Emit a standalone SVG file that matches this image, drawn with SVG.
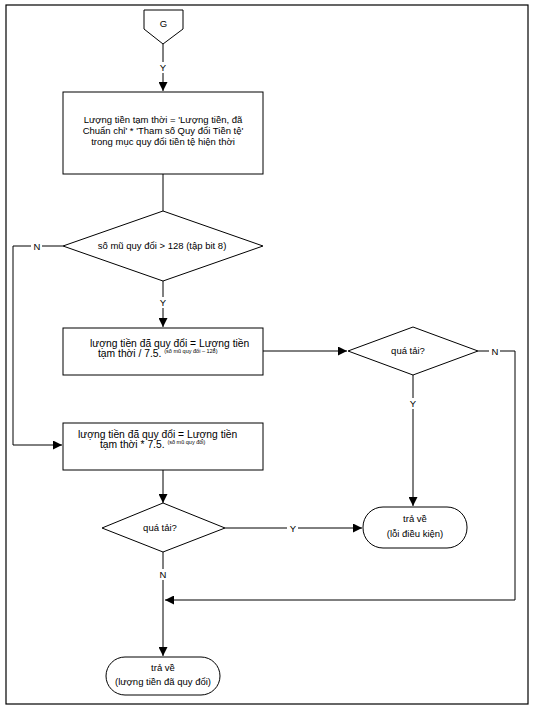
<svg xmlns="http://www.w3.org/2000/svg" width="535" height="707" viewBox="0 0 535 707">
<style>
.s{fill:#fff;stroke:#000;stroke-width:1}
.c{fill:none;stroke:#000;stroke-width:1}
text{font-family:"Liberation Sans",Arial,sans-serif;font-size:9.5px;fill:#000}
.m{text-anchor:middle}
.b{font-size:10.3px}
.sup{font-size:5.5px}
.lb{fill:#fff}
</style>
<defs>
<marker id="a" viewBox="0 0 10 10" refX="10" refY="5" markerWidth="9" markerHeight="9" markerUnits="userSpaceOnUse" orient="auto">
<path d="M0,0 L10,5 L0,10 z" fill="#000"/>
</marker>
</defs>
<rect x="6" y="5" width="522" height="699" fill="#fff" stroke="#000" stroke-width="1.2"/>
<g id="connectors">
<path class="c" d="M163,44 V91" marker-end="url(#a)"/>
<path class="c" d="M163,174 V211"/>
<path class="c" d="M63,246 H13 V445 H62" marker-end="url(#a)"/>
<path class="c" d="M163,281 V327" marker-end="url(#a)"/>
<path class="c" d="M263,351 H347" marker-end="url(#a)"/>
<path class="c" d="M478,351 H515 V600 H165" marker-end="url(#a)"/>
<path class="c" d="M413,375 V506" marker-end="url(#a)"/>
<path class="c" d="M163,470 V503" marker-end="url(#a)"/>
<path class="c" d="M225,528 H362" marker-end="url(#a)"/>
<path class="c" d="M163,552 V656" marker-end="url(#a)"/>
<rect class="lb" x="158" y="62" width="10" height="11"/>
<text class="m" x="163" y="71">Y</text>
<rect class="lb" x="31" y="241" width="11" height="10"/>
<text class="m" x="37" y="249.5">N</text>
<rect class="lb" x="158" y="297" width="10" height="11"/>
<text class="m" x="163" y="306">Y</text>
<rect class="lb" x="489" y="346" width="11" height="10"/>
<text class="m" x="495" y="354.5">N</text>
<rect class="lb" x="408" y="398" width="10" height="11"/>
<text class="m" x="413" y="407">Y</text>
<rect class="lb" x="287" y="523" width="11" height="10"/>
<text class="m" x="293" y="531.5">Y</text>
<rect class="lb" x="158" y="569" width="10" height="11"/>
<text class="m" x="163" y="578">N</text>
</g>
<g id="G">
<path class="s" d="M144,10 H183 V29 L163,44 L144,29 Z"/>
<text class="m" x="163.5" y="27">G</text>
</g>
<g id="box1">
<rect class="s" x="63" y="92" width="200" height="82"/>
<text class="m" x="163" y="123">Lượng tiền tạm thời = 'Lượng tiền, đã</text>
<text class="m" x="163" y="134">Chuẩn chỉ' * 'Tham số Quy đổi Tiền tệ'</text>
<text class="m" x="163" y="145">trong mục quy đổi tiền tệ hiện thời</text>
</g>
<g id="dec1">
<path class="s" d="M63,246 L163,211 L263,246 L163,281 Z"/>
<text class="m" x="162" y="249">số mũ quy đổi &gt; 128 (tập bit 8)</text>
</g>
<g id="box2">
<rect class="s" x="63" y="328" width="200" height="47"/>
<text class="b" x="90" y="347">lượng tiền đã quy đổi = Lượng tiền</text>
<text class="b" x="98" y="357">tạm thời / 7.5. <tspan class="sup" dy="-4">(số mũ quy đổi – 128)</tspan></text>
</g>
<g id="dec2">
<path class="s" d="M348,351 L413,327 L478,351 L413,375 Z"/>
<text class="m" x="408" y="354">quá tải?</text>
</g>
<g id="box3">
<rect class="s" x="63" y="423" width="200" height="47"/>
<text class="b" x="78" y="438">lượng tiền đã quy đổi = Lượng tiền</text>
<text class="b" x="100" y="448">tạm thời * 7.5. <tspan class="sup" dy="-4">(số mũ quy đổi)</tspan></text>
</g>
<g id="dec3">
<path class="s" d="M102,528 L163,503 L225,528 L163,552 Z"/>
<text class="m" x="160" y="531">quá tải?</text>
</g>
<g id="term2">
<rect class="s" x="363" y="507" width="104" height="41" rx="20" ry="20"/>
<text class="m" x="415" y="522">trả về</text>
<text class="m" x="415" y="537">(lỗi điều kiện)</text>
</g>
<g id="term1">
<rect class="s" x="106" y="657" width="114" height="38" rx="19" ry="19"/>
<text class="m" x="163" y="671">trả về</text>
<text class="m" x="163" y="685">(lượng tiền đã quy đổi)</text>
</g>
</svg>
